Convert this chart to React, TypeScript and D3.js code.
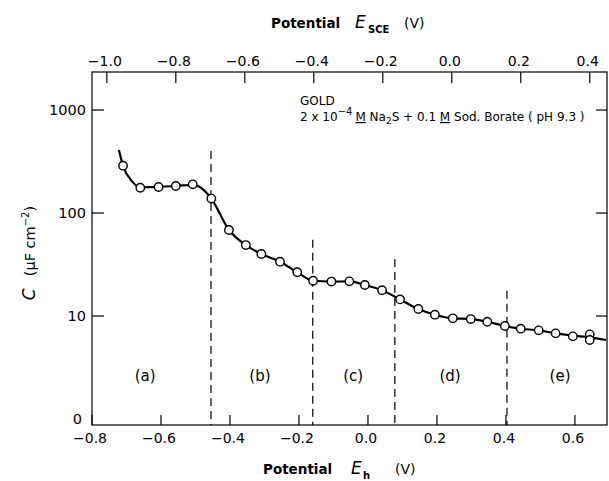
import React from "react";
import * as d3 from "d3";

// Measured points: potential E_h (V) and capacitance C (µF cm^-2)
const potential = [-0.71, -0.66, -0.607, -0.557, -0.508, -0.454, -0.403, -0.354, -0.309, -0.255, -0.205, -0.159, -0.106, -0.054, -0.009, 0.041, 0.093, 0.146, 0.194, 0.246, 0.298, 0.346, 0.397, 0.443, 0.495, 0.544, 0.594, 0.643, 0.643];
const capacitance = [288, 176, 179, 183, 190, 138, 68.4, 48.9, 40, 33.7, 26.6, 22.0, 21.6, 21.7, 20.0, 17.8, 14.5, 11.7, 10.3, 9.5, 9.35, 8.8, 8.0, 7.53, 7.26, 6.79, 6.35, 6.64, 5.85];

// Fitted smooth curve
const curveE = [-0.722, -0.71, -0.685, -0.66, -0.607, -0.557, -0.508, -0.48, -0.454, -0.403, -0.354, -0.309, -0.255, -0.205, -0.159, -0.106, -0.054, -0.009, 0.041, 0.093, 0.146, 0.194, 0.246, 0.298, 0.346, 0.397, 0.443, 0.495, 0.544, 0.594, 0.643, 0.69];
const curveC = [409, 288, 205, 178, 180, 183, 188, 172, 138, 68.4, 48.9, 40, 33.7, 26.6, 22.0, 21.6, 21.7, 20.0, 17.8, 14.5, 11.7, 10.3, 9.5, 9.35, 8.8, 8.0, 7.53, 7.26, 6.79, 6.45, 6.2, 5.85];

// Region boundaries (dashed lines): position and top value
const boundaryE = [-0.455, -0.16, 0.078, 0.403];
const boundaryTop = [400, 55, 35.7, 17.6];

const regionLabels = ["(a)", "(b)", "(c)", "(d)", "(e)"];
const regionE = [-0.646, -0.313, -0.043, 0.238, 0.557];

const bottomTicks = [-0.8, -0.6, -0.4, -0.2, 0.0, 0.2, 0.4, 0.6];
const topTicks = [-1.0, -0.8, -0.6, -0.4, -0.2, 0.0, 0.2, 0.4];
const yTicks = [1000, 100, 10];
const yLabels = ["1000", "100", "10", "0"];
const yLabelValues = [1000, 100, 10, 1];

const W = 609, H = 481;
const L = 92, R = 607, T = 72, B = 425;

const fmt = (v: number) => (v < 0 ? "\u2212" : "") + Math.abs(v).toFixed(1);

export default function App() {
  const x = d3.scaleLinear().domain([-0.8, 0.693]).range([L, R]);
  const xTop = d3.scaleLinear().domain([-1.043, 0.45]).range([L, R]);
  const y = d3.scaleLog().domain([0.875, 2340]).range([B, T]);

  const line = d3
    .line<number>()
    .x((_, i) => x(curveE[i]))
    .y((_, i) => y(curveC[i]))
    .curve(d3.curveMonotoneX);

  const font = "'DejaVu Sans', 'Liberation Sans', sans-serif";

  return (
    <svg
      width={W}
      height={H}
      style={{ position: "absolute", left: 0, top: 0, background: "#fff" }}
      fontFamily={font}
    >
      <rect x={0} y={0} width={W} height={H} fill="#fff" />
      {/* frame */}
      <rect x={L} y={T} width={R - L} height={B - T} fill="none" stroke="#000" strokeWidth={1.2} />

      {/* bottom ticks */}
      {bottomTicks.map((t) => (
        <g key={"b" + t}>
          <line x1={x(t)} x2={x(t)} y1={B} y2={B - 10} stroke="#000" strokeWidth={1.2} />
          <text x={x(t) - 2} y={B + 18} textAnchor="middle" fontSize={14}>{fmt(t)}</text>
        </g>
      ))}
      {/* top ticks */}
      {topTicks.map((t) => (
        <g key={"t" + t}>
          <line x1={xTop(t)} x2={xTop(t)} y1={T} y2={T + 11} stroke="#000" strokeWidth={1.2} />
          <text x={xTop(t) - 2} y={T - 6} textAnchor="middle" fontSize={14}>{fmt(t)}</text>
        </g>
      ))}
      {/* y ticks */}
      {yTicks.map((t) => (
        <g key={"y" + t}>
          <line x1={L} x2={L + 12} y1={y(t)} y2={y(t)} stroke="#000" strokeWidth={1.2} />
          <line x1={R} x2={R - 11} y1={y(t)} y2={y(t)} stroke="#000" strokeWidth={1.2} />
        </g>
      ))}
      {yLabels.map((lab, i) => (
        <text key={"yl" + lab} x={i === 3 ? L - 10 : L - 6} y={y(yLabelValues[i]) + 5} textAnchor="end" fontSize={14.5}>{lab}</text>
      ))}

      {/* axis titles */}
      <text x={263} y={474} fontSize={13.5} fontWeight="bold">Potential</text>
      <text x={351} y={474} fontSize={17} fontStyle="italic">E</text>
      <text x={363} y={479} fontSize={10} fontWeight="bold">h</text>
      <text x={395} y={474} fontSize={14}>(V)</text>

      <text x={271} y={28} fontSize={13.5} fontWeight="bold">Potential</text>
      <text x={355} y={28} fontSize={17} fontStyle="italic">E</text>
      <text x={368} y={33} fontSize={10} fontWeight="bold">SCE</text>
      <text x={404} y={28} fontSize={14}>(V)</text>

      <text transform={`translate(35,253) rotate(-90)`} textAnchor="middle" fontSize={14.5}>
        <tspan fontStyle="italic" fontSize={17}>C</tspan>
        <tspan dx={12}>(</tspan>
        <tspan>µF cm</tspan>
        <tspan dy={-6} fontSize={10}>−2</tspan>
        <tspan dy={6}>)</tspan>
      </text>

      {/* annotation */}
      <text x={300} y={105} fontSize={12}>GOLD</text>
      <text x={300} y={121} fontSize={12}>
        2 x 10<tspan dy={-6} fontSize={10}>−4</tspan>
        <tspan dy={6} dx={3} textDecoration="underline">M</tspan> Na
        <tspan dy={3} fontSize={9}>2</tspan>
        <tspan dy={-3}>S + 0.1 </tspan>
        <tspan textDecoration="underline">M</tspan> Sod. Borate ( pH 9.3 )
      </text>

      {/* dashed boundaries */}
      {boundaryE.map((e, i) => (
        <line key={"d" + i} x1={x(e)} x2={x(e)} y1={y(boundaryTop[i])} y2={B} stroke="#000" strokeWidth={1.2} strokeDasharray="8,5" />
      ))}

      {/* region labels */}
      {regionLabels.map((lab, i) => (
        <text key={lab} x={x(regionE[i])} y={381} textAnchor="middle" fontSize={15}>{lab}</text>
      ))}

      {/* curve */}
      <path d={line(curveE) || ""} fill="none" stroke="#000" strokeWidth={2.2} />

      {/* points */}
      {potential.map((e, i) => (
        <circle key={"p" + i} cx={x(e)} cy={y(capacitance[i])} r={4.2} fill="#fff" stroke="#000" strokeWidth={1.4} />
      ))}
    </svg>
  );
}
